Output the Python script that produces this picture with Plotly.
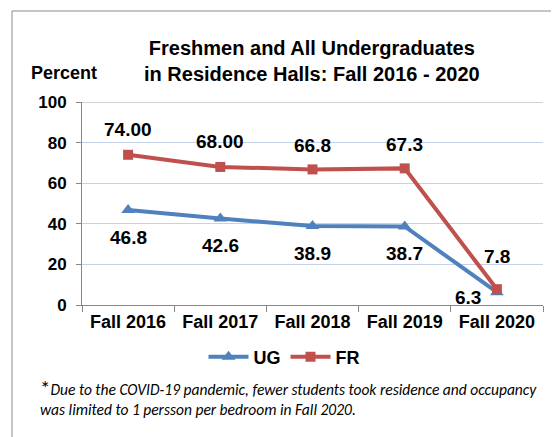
import plotly.graph_objects as go

categories = ["Fall 2016", "Fall 2017", "Fall 2018", "Fall 2019", "Fall 2020"]
ug_values = [46.8, 42.6, 38.9, 38.7, 6.3]
fr_values = [74.0, 68.0, 66.8, 67.3, 7.8]
ug_labels = ["46.8", "42.6", "38.9", "38.7", "6.3"]
fr_labels = ["74.00", "68.00", "66.8", "67.3", "7.8"]
y_ticks = [0, 20, 40, 60, 80, 100]

BLUE = "#4F81BD"
RED = "#C0504D"
FONT = "Liberation Sans, Arial, sans-serif"

OFF = 8  # page body margin
W, H = 559 - OFF, 437 - OFF
L, R, T, B = 82 - OFF, 16, 102 - OFF, 132
pw, ph = W - L - R, H - T - B

def px_x(v):
    return (v - OFF - L) / pw

def px_y(v):
    return (H - B - (v - OFF)) / ph

fig = go.Figure()
fig.add_trace(go.Scatter(
    x=categories, y=ug_values, name="UG", mode="lines+markers",
    line=dict(color=BLUE, width=4),
    marker=dict(symbol="triangle-up", size=12, color=BLUE),
))
fig.add_trace(go.Scatter(
    x=categories, y=fr_values, name="FR", mode="lines+markers",
    line=dict(color=RED, width=4),
    marker=dict(symbol="square", size=10, color=RED),
))

annotations = []
ug_shift = [(0, -27), (0, -27), (0, -27), (0, -27), (-29, -5)]
fr_shift = [(0, 25), (0, 25), (0, 24), (0, 24), (0, 33)]
for c, v, t, (dx, dy) in zip(categories, ug_values, ug_labels, ug_shift):
    annotations.append(dict(x=c, y=v, xref="x", yref="y", text=t, showarrow=False,
                            xshift=dx, yshift=dy,
                            font=dict(family=FONT, size=19, color="#000000", weight="bold")))
for c, v, t, (dx, dy) in zip(categories, fr_values, fr_labels, fr_shift):
    annotations.append(dict(x=c, y=v, xref="x", yref="y", text=t, showarrow=False,
                            xshift=dx, yshift=dy,
                            font=dict(family=FONT, size=19, color="#000000", weight="bold")))

# Title
annotations.append(dict(x=px_x(312), y=px_y(61), xref="paper", yref="paper",
                        text="<b>Freshmen and All Undergraduates<br>in Residence Halls: Fall 2016 - 2020</b>",
                        showarrow=False, xanchor="center", yanchor="middle",
                        font=dict(family=FONT, size=20, color="#000000")))
# Y axis title
annotations.append(dict(x=px_x(29), y=px_y(73), xref="paper", yref="paper",
                        text="<b>Percent</b>", showarrow=False, xanchor="left", yanchor="middle",
                        font=dict(family=FONT, size=18, color="#000000")))
# Footnote
annotations.append(dict(x=px_x(38), y=px_y(397), xref="paper", yref="paper",
                        text="<span style='font-size:21px;font-style:normal'>*</span><i>Due to the COVID-19 pandemic, fewer students took residence and occupancy</i><br><i>was limited to 1 persson per bedroom in Fall 2020.</i>",
                        showarrow=False, xanchor="left", yanchor="middle", align="left",
                        font=dict(family="Liberation Sans Narrow, Carlito, Arial Narrow, sans-serif", size=15.5, color="#000000")))

shapes = [
    # outer border (left and top visible)
    dict(type="line", xref="paper", yref="paper", x0=px_x(12), x1=px_x(12), y0=px_y(11), y1=px_y(445),
         line=dict(color="#8C8C8C", width=1)),
    dict(type="line", xref="paper", yref="paper", x0=px_x(12), x1=px_x(570), y0=px_y(11), y1=px_y(11),
         line=dict(color="#8C8C8C", width=1)),
    # top 100 line in grey
    dict(type="line", xref="paper", yref="y", x0=0, x1=1, y0=100, y1=100,
         line=dict(color="#A6A6A6", width=1)),
]

fig.update_layout(
    width=W, height=H,
    margin=dict(l=L, r=R, t=T, b=B),
    paper_bgcolor="white", plot_bgcolor="white",
    showlegend=True,
    legend=dict(orientation="h", x=px_x(284), y=px_y(357), xanchor="center", yanchor="middle",
                font=dict(family=FONT, size=18, color="#000000", weight="bold"),
                itemwidth=40, tracegroupgap=0, bgcolor="rgba(0,0,0,0)"),
    annotations=annotations,
    shapes=shapes,
    font=dict(family=FONT, color="#000000"),
)
fig.update_xaxes(
    type="category", showline=True, linecolor="#868686", linewidth=1,
    ticks="outside", ticklen=6, tickcolor="#868686", tickson="boundaries",
    showgrid=False, tickfont=dict(family=FONT, size=18, color="#000000", weight="bold"),
    range=[-0.5, 4.5],
)
fig.update_yaxes(
    range=[0, 100], tickvals=y_ticks, showline=True, linecolor="#868686", linewidth=1,
    ticks="outside", ticklen=5, tickcolor="#868686",
    showgrid=True, gridcolor="#C5D3EA", gridwidth=1, zeroline=False,
    tickfont=dict(family=FONT, size=17, color="#000000", weight="bold"), ticklabelstandoff=6,
)

fig.write_html("out.html")
